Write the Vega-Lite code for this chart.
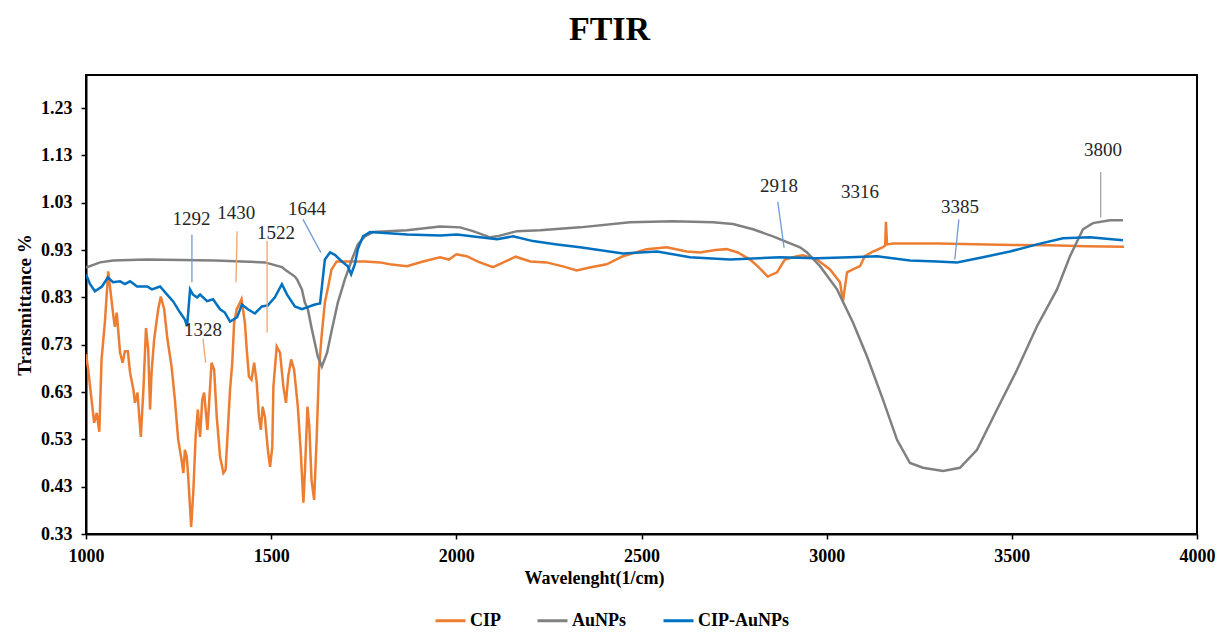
{
  "$schema": "https://vega.github.io/schema/vega-lite/v6.json",
  "width": 1111,
  "height": 459,
  "autosize": {"type": "none"},
  "padding": {"left": 86, "top": 75, "right": 22, "bottom": 101},
  "background": "white",
  "title": {"text": "FTIR", "font": "Liberation Serif", "fontSize": 34, "fontWeight": "bold", "color": "black", "anchor": "middle", "dx": -32, "offset": 28},
  "config": {"view": {"stroke": "black", "strokeWidth": 2}, "font": "Liberation Serif"},
  "datasets": {
    "spectra": [
      {"series": "CIP", "wn": 1000, "t": 0.71},
      {"series": "CIP", "wn": 1006, "t": 0.677},
      {"series": "CIP", "wn": 1015, "t": 0.614},
      {"series": "CIP", "wn": 1022, "t": 0.565},
      {"series": "CIP", "wn": 1029, "t": 0.586},
      {"series": "CIP", "wn": 1036, "t": 0.546},
      {"series": "CIP", "wn": 1042, "t": 0.699},
      {"series": "CIP", "wn": 1051, "t": 0.777},
      {"series": "CIP", "wn": 1060, "t": 0.885},
      {"series": "CIP", "wn": 1074, "t": 0.79},
      {"series": "CIP", "wn": 1078, "t": 0.768},
      {"series": "CIP", "wn": 1083, "t": 0.798},
      {"series": "CIP", "wn": 1092, "t": 0.713},
      {"series": "CIP", "wn": 1099, "t": 0.692},
      {"series": "CIP", "wn": 1105, "t": 0.716},
      {"series": "CIP", "wn": 1113, "t": 0.716},
      {"series": "CIP", "wn": 1119, "t": 0.671},
      {"series": "CIP", "wn": 1128, "t": 0.635},
      {"series": "CIP", "wn": 1132, "t": 0.607},
      {"series": "CIP", "wn": 1139, "t": 0.629},
      {"series": "CIP", "wn": 1148, "t": 0.535},
      {"series": "CIP", "wn": 1155, "t": 0.635},
      {"series": "CIP", "wn": 1162, "t": 0.765},
      {"series": "CIP", "wn": 1168, "t": 0.72},
      {"series": "CIP", "wn": 1173, "t": 0.593},
      {"series": "CIP", "wn": 1177, "t": 0.671},
      {"series": "CIP", "wn": 1184, "t": 0.741},
      {"series": "CIP", "wn": 1195, "t": 0.805},
      {"series": "CIP", "wn": 1202, "t": 0.832},
      {"series": "CIP", "wn": 1211, "t": 0.805},
      {"series": "CIP", "wn": 1220, "t": 0.741},
      {"series": "CIP", "wn": 1231, "t": 0.684},
      {"series": "CIP", "wn": 1240, "t": 0.614},
      {"series": "CIP", "wn": 1249, "t": 0.529},
      {"series": "CIP", "wn": 1258, "t": 0.487},
      {"series": "CIP", "wn": 1263, "t": 0.459},
      {"series": "CIP", "wn": 1267, "t": 0.508},
      {"series": "CIP", "wn": 1272, "t": 0.494},
      {"series": "CIP", "wn": 1276, "t": 0.451},
      {"series": "CIP", "wn": 1284, "t": 0.345},
      {"series": "CIP", "wn": 1290, "t": 0.423},
      {"series": "CIP", "wn": 1296, "t": 0.535},
      {"series": "CIP", "wn": 1302, "t": 0.593},
      {"series": "CIP", "wn": 1308, "t": 0.535},
      {"series": "CIP", "wn": 1314, "t": 0.614},
      {"series": "CIP", "wn": 1319, "t": 0.629},
      {"series": "CIP", "wn": 1323, "t": 0.593},
      {"series": "CIP", "wn": 1328, "t": 0.55},
      {"series": "CIP", "wn": 1333, "t": 0.614},
      {"series": "CIP", "wn": 1339, "t": 0.692},
      {"series": "CIP", "wn": 1346, "t": 0.677},
      {"series": "CIP", "wn": 1353, "t": 0.578},
      {"series": "CIP", "wn": 1362, "t": 0.493},
      {"series": "CIP", "wn": 1371, "t": 0.459},
      {"series": "CIP", "wn": 1377, "t": 0.466},
      {"series": "CIP", "wn": 1383, "t": 0.55},
      {"series": "CIP", "wn": 1389, "t": 0.635},
      {"series": "CIP", "wn": 1395, "t": 0.692},
      {"series": "CIP", "wn": 1400, "t": 0.777},
      {"series": "CIP", "wn": 1407, "t": 0.805},
      {"series": "CIP", "wn": 1416, "t": 0.819},
      {"series": "CIP", "wn": 1420, "t": 0.826},
      {"series": "CIP", "wn": 1429, "t": 0.777},
      {"series": "CIP", "wn": 1434, "t": 0.72},
      {"series": "CIP", "wn": 1440, "t": 0.663},
      {"series": "CIP", "wn": 1447, "t": 0.656},
      {"series": "CIP", "wn": 1454, "t": 0.692},
      {"series": "CIP", "wn": 1461, "t": 0.65},
      {"series": "CIP", "wn": 1467, "t": 0.578},
      {"series": "CIP", "wn": 1472, "t": 0.55},
      {"series": "CIP", "wn": 1477, "t": 0.599},
      {"series": "CIP", "wn": 1483, "t": 0.578},
      {"series": "CIP", "wn": 1491, "t": 0.508},
      {"series": "CIP", "wn": 1497, "t": 0.472},
      {"series": "CIP", "wn": 1503, "t": 0.514},
      {"series": "CIP", "wn": 1506, "t": 0.641},
      {"series": "CIP", "wn": 1515, "t": 0.726},
      {"series": "CIP", "wn": 1524, "t": 0.713},
      {"series": "CIP", "wn": 1533, "t": 0.641},
      {"series": "CIP", "wn": 1540, "t": 0.607},
      {"series": "CIP", "wn": 1546, "t": 0.663},
      {"series": "CIP", "wn": 1554, "t": 0.699},
      {"series": "CIP", "wn": 1562, "t": 0.677},
      {"series": "CIP", "wn": 1572, "t": 0.599},
      {"series": "CIP", "wn": 1580, "t": 0.502},
      {"series": "CIP", "wn": 1587, "t": 0.396},
      {"series": "CIP", "wn": 1591, "t": 0.459},
      {"series": "CIP", "wn": 1598, "t": 0.599},
      {"series": "CIP", "wn": 1603, "t": 0.557},
      {"series": "CIP", "wn": 1609, "t": 0.444},
      {"series": "CIP", "wn": 1616, "t": 0.402},
      {"series": "CIP", "wn": 1623, "t": 0.535},
      {"series": "CIP", "wn": 1629, "t": 0.677},
      {"series": "CIP", "wn": 1636, "t": 0.747},
      {"series": "CIP", "wn": 1645, "t": 0.819},
      {"series": "CIP", "wn": 1654, "t": 0.853},
      {"series": "CIP", "wn": 1663, "t": 0.889},
      {"series": "CIP", "wn": 1677, "t": 0.906},
      {"series": "CIP", "wn": 1699, "t": 0.906},
      {"series": "CIP", "wn": 1753, "t": 0.906},
      {"series": "CIP", "wn": 1794, "t": 0.904},
      {"series": "CIP", "wn": 1820, "t": 0.9},
      {"series": "CIP", "wn": 1867, "t": 0.896},
      {"series": "CIP", "wn": 1910, "t": 0.906},
      {"series": "CIP", "wn": 1956, "t": 0.915},
      {"series": "CIP", "wn": 1980, "t": 0.91},
      {"series": "CIP", "wn": 2000, "t": 0.921},
      {"series": "CIP", "wn": 2028, "t": 0.917},
      {"series": "CIP", "wn": 2060, "t": 0.905},
      {"series": "CIP", "wn": 2099, "t": 0.894},
      {"series": "CIP", "wn": 2130, "t": 0.905},
      {"series": "CIP", "wn": 2160, "t": 0.916},
      {"series": "CIP", "wn": 2200, "t": 0.906},
      {"series": "CIP", "wn": 2244, "t": 0.904},
      {"series": "CIP", "wn": 2290, "t": 0.895},
      {"series": "CIP", "wn": 2325, "t": 0.887},
      {"series": "CIP", "wn": 2360, "t": 0.893},
      {"series": "CIP", "wn": 2406, "t": 0.9},
      {"series": "CIP", "wn": 2450, "t": 0.917},
      {"series": "CIP", "wn": 2514, "t": 0.932},
      {"series": "CIP", "wn": 2568, "t": 0.936},
      {"series": "CIP", "wn": 2622, "t": 0.927},
      {"series": "CIP", "wn": 2658, "t": 0.925},
      {"series": "CIP", "wn": 2700, "t": 0.93},
      {"series": "CIP", "wn": 2730, "t": 0.932},
      {"series": "CIP", "wn": 2760, "t": 0.925},
      {"series": "CIP", "wn": 2793, "t": 0.91},
      {"series": "CIP", "wn": 2815, "t": 0.895},
      {"series": "CIP", "wn": 2841, "t": 0.874},
      {"series": "CIP", "wn": 2866, "t": 0.883},
      {"series": "CIP", "wn": 2887, "t": 0.91},
      {"series": "CIP", "wn": 2920, "t": 0.917},
      {"series": "CIP", "wn": 2936, "t": 0.919},
      {"series": "CIP", "wn": 2974, "t": 0.91},
      {"series": "CIP", "wn": 3009, "t": 0.889},
      {"series": "CIP", "wn": 3036, "t": 0.862},
      {"series": "CIP", "wn": 3044, "t": 0.822},
      {"series": "CIP", "wn": 3055, "t": 0.883},
      {"series": "CIP", "wn": 3071, "t": 0.889},
      {"series": "CIP", "wn": 3090, "t": 0.896},
      {"series": "CIP", "wn": 3103, "t": 0.917},
      {"series": "CIP", "wn": 3125, "t": 0.927},
      {"series": "CIP", "wn": 3152, "t": 0.936},
      {"series": "CIP", "wn": 3158, "t": 0.94},
      {"series": "CIP", "wn": 3160, "t": 0.99},
      {"series": "CIP", "wn": 3163, "t": 0.942},
      {"series": "CIP", "wn": 3180, "t": 0.944},
      {"series": "CIP", "wn": 3300, "t": 0.944},
      {"series": "CIP", "wn": 3500, "t": 0.941},
      {"series": "CIP", "wn": 3600, "t": 0.94},
      {"series": "CIP", "wn": 3700, "t": 0.938},
      {"series": "CIP", "wn": 3803, "t": 0.937},

      {"series": "AuNPs", "wn": 1000, "t": 0.893},
      {"series": "AuNPs", "wn": 1038, "t": 0.904},
      {"series": "AuNPs", "wn": 1073, "t": 0.908},
      {"series": "AuNPs", "wn": 1165, "t": 0.91},
      {"series": "AuNPs", "wn": 1348, "t": 0.908},
      {"series": "AuNPs", "wn": 1483, "t": 0.904},
      {"series": "AuNPs", "wn": 1529, "t": 0.894},
      {"series": "AuNPs", "wn": 1537, "t": 0.889},
      {"series": "AuNPs", "wn": 1564, "t": 0.874},
      {"series": "AuNPs", "wn": 1570, "t": 0.868},
      {"series": "AuNPs", "wn": 1583, "t": 0.847},
      {"series": "AuNPs", "wn": 1591, "t": 0.819},
      {"series": "AuNPs", "wn": 1599, "t": 0.805},
      {"series": "AuNPs", "wn": 1610, "t": 0.762},
      {"series": "AuNPs", "wn": 1626, "t": 0.705},
      {"series": "AuNPs", "wn": 1637, "t": 0.684},
      {"series": "AuNPs", "wn": 1651, "t": 0.713},
      {"series": "AuNPs", "wn": 1664, "t": 0.762},
      {"series": "AuNPs", "wn": 1680, "t": 0.819},
      {"series": "AuNPs", "wn": 1699, "t": 0.868},
      {"series": "AuNPs", "wn": 1718, "t": 0.91},
      {"series": "AuNPs", "wn": 1734, "t": 0.942},
      {"series": "AuNPs", "wn": 1753, "t": 0.959},
      {"series": "AuNPs", "wn": 1775, "t": 0.968},
      {"series": "AuNPs", "wn": 1867, "t": 0.972},
      {"series": "AuNPs", "wn": 1956, "t": 0.98},
      {"series": "AuNPs", "wn": 2010, "t": 0.978},
      {"series": "AuNPs", "wn": 2045, "t": 0.97},
      {"series": "AuNPs", "wn": 2091, "t": 0.957},
      {"series": "AuNPs", "wn": 2110, "t": 0.959},
      {"series": "AuNPs", "wn": 2164, "t": 0.97},
      {"series": "AuNPs", "wn": 2226, "t": 0.972},
      {"series": "AuNPs", "wn": 2334, "t": 0.978},
      {"series": "AuNPs", "wn": 2469, "t": 0.989},
      {"series": "AuNPs", "wn": 2585, "t": 0.991},
      {"series": "AuNPs", "wn": 2693, "t": 0.989},
      {"series": "AuNPs", "wn": 2747, "t": 0.985},
      {"series": "AuNPs", "wn": 2801, "t": 0.974},
      {"series": "AuNPs", "wn": 2855, "t": 0.959},
      {"series": "AuNPs", "wn": 2893, "t": 0.947},
      {"series": "AuNPs", "wn": 2928, "t": 0.936},
      {"series": "AuNPs", "wn": 2947, "t": 0.925},
      {"series": "AuNPs", "wn": 2982, "t": 0.896},
      {"series": "AuNPs", "wn": 3028, "t": 0.847},
      {"series": "AuNPs", "wn": 3071, "t": 0.777},
      {"series": "AuNPs", "wn": 3109, "t": 0.705},
      {"series": "AuNPs", "wn": 3152, "t": 0.614},
      {"series": "AuNPs", "wn": 3190, "t": 0.529},
      {"series": "AuNPs", "wn": 3225, "t": 0.48},
      {"series": "AuNPs", "wn": 3260, "t": 0.47},
      {"series": "AuNPs", "wn": 3314, "t": 0.463},
      {"series": "AuNPs", "wn": 3360, "t": 0.47},
      {"series": "AuNPs", "wn": 3406, "t": 0.508},
      {"series": "AuNPs", "wn": 3460, "t": 0.593},
      {"series": "AuNPs", "wn": 3514, "t": 0.677},
      {"series": "AuNPs", "wn": 3568, "t": 0.769},
      {"series": "AuNPs", "wn": 3622, "t": 0.847},
      {"series": "AuNPs", "wn": 3657, "t": 0.917},
      {"series": "AuNPs", "wn": 3692, "t": 0.974},
      {"series": "AuNPs", "wn": 3719, "t": 0.987},
      {"series": "AuNPs", "wn": 3765, "t": 0.993},
      {"series": "AuNPs", "wn": 3800, "t": 0.993},

      {"series": "CIP-AuNPs", "wn": 1000, "t": 0.879},
      {"series": "CIP-AuNPs", "wn": 1011, "t": 0.858},
      {"series": "CIP-AuNPs", "wn": 1024, "t": 0.843},
      {"series": "CIP-AuNPs", "wn": 1043, "t": 0.853},
      {"series": "CIP-AuNPs", "wn": 1059, "t": 0.872},
      {"series": "CIP-AuNPs", "wn": 1073, "t": 0.862},
      {"series": "CIP-AuNPs", "wn": 1092, "t": 0.864},
      {"series": "CIP-AuNPs", "wn": 1105, "t": 0.858},
      {"series": "CIP-AuNPs", "wn": 1119, "t": 0.864},
      {"series": "CIP-AuNPs", "wn": 1138, "t": 0.853},
      {"series": "CIP-AuNPs", "wn": 1165, "t": 0.853},
      {"series": "CIP-AuNPs", "wn": 1178, "t": 0.847},
      {"series": "CIP-AuNPs", "wn": 1200, "t": 0.853},
      {"series": "CIP-AuNPs", "wn": 1219, "t": 0.836},
      {"series": "CIP-AuNPs", "wn": 1235, "t": 0.822},
      {"series": "CIP-AuNPs", "wn": 1254, "t": 0.798},
      {"series": "CIP-AuNPs", "wn": 1267, "t": 0.783},
      {"series": "CIP-AuNPs", "wn": 1273, "t": 0.769},
      {"series": "CIP-AuNPs", "wn": 1281, "t": 0.847},
      {"series": "CIP-AuNPs", "wn": 1289, "t": 0.836},
      {"series": "CIP-AuNPs", "wn": 1300, "t": 0.83},
      {"series": "CIP-AuNPs", "wn": 1308, "t": 0.836},
      {"series": "CIP-AuNPs", "wn": 1327, "t": 0.822},
      {"series": "CIP-AuNPs", "wn": 1343, "t": 0.826},
      {"series": "CIP-AuNPs", "wn": 1362, "t": 0.805},
      {"series": "CIP-AuNPs", "wn": 1375, "t": 0.798},
      {"series": "CIP-AuNPs", "wn": 1389, "t": 0.779},
      {"series": "CIP-AuNPs", "wn": 1408, "t": 0.788},
      {"series": "CIP-AuNPs", "wn": 1421, "t": 0.815},
      {"series": "CIP-AuNPs", "wn": 1437, "t": 0.805},
      {"series": "CIP-AuNPs", "wn": 1456, "t": 0.796},
      {"series": "CIP-AuNPs", "wn": 1475, "t": 0.811},
      {"series": "CIP-AuNPs", "wn": 1491, "t": 0.813},
      {"series": "CIP-AuNPs", "wn": 1510, "t": 0.83},
      {"series": "CIP-AuNPs", "wn": 1529, "t": 0.858},
      {"series": "CIP-AuNPs", "wn": 1543, "t": 0.836},
      {"series": "CIP-AuNPs", "wn": 1564, "t": 0.811},
      {"series": "CIP-AuNPs", "wn": 1583, "t": 0.805},
      {"series": "CIP-AuNPs", "wn": 1618, "t": 0.815},
      {"series": "CIP-AuNPs", "wn": 1632, "t": 0.817},
      {"series": "CIP-AuNPs", "wn": 1645, "t": 0.91},
      {"series": "CIP-AuNPs", "wn": 1659, "t": 0.925},
      {"series": "CIP-AuNPs", "wn": 1672, "t": 0.92},
      {"series": "CIP-AuNPs", "wn": 1691, "t": 0.906},
      {"series": "CIP-AuNPs", "wn": 1707, "t": 0.896},
      {"series": "CIP-AuNPs", "wn": 1716, "t": 0.879},
      {"series": "CIP-AuNPs", "wn": 1726, "t": 0.9},
      {"series": "CIP-AuNPs", "wn": 1734, "t": 0.932},
      {"series": "CIP-AuNPs", "wn": 1748, "t": 0.959},
      {"series": "CIP-AuNPs", "wn": 1767, "t": 0.968},
      {"series": "CIP-AuNPs", "wn": 1867, "t": 0.963},
      {"series": "CIP-AuNPs", "wn": 1956, "t": 0.961},
      {"series": "CIP-AuNPs", "wn": 2002, "t": 0.963},
      {"series": "CIP-AuNPs", "wn": 2064, "t": 0.957},
      {"series": "CIP-AuNPs", "wn": 2110, "t": 0.953},
      {"series": "CIP-AuNPs", "wn": 2153, "t": 0.959},
      {"series": "CIP-AuNPs", "wn": 2207, "t": 0.949},
      {"series": "CIP-AuNPs", "wn": 2272, "t": 0.942},
      {"series": "CIP-AuNPs", "wn": 2334, "t": 0.936},
      {"series": "CIP-AuNPs", "wn": 2450, "t": 0.923},
      {"series": "CIP-AuNPs", "wn": 2542, "t": 0.927},
      {"series": "CIP-AuNPs", "wn": 2631, "t": 0.915},
      {"series": "CIP-AuNPs", "wn": 2739, "t": 0.91},
      {"series": "CIP-AuNPs", "wn": 2874, "t": 0.915},
      {"series": "CIP-AuNPs", "wn": 2974, "t": 0.913},
      {"series": "CIP-AuNPs", "wn": 3063, "t": 0.915},
      {"series": "CIP-AuNPs", "wn": 3136, "t": 0.917},
      {"series": "CIP-AuNPs", "wn": 3225, "t": 0.908},
      {"series": "CIP-AuNPs", "wn": 3298, "t": 0.906},
      {"series": "CIP-AuNPs", "wn": 3352, "t": 0.904},
      {"series": "CIP-AuNPs", "wn": 3422, "t": 0.915},
      {"series": "CIP-AuNPs", "wn": 3495, "t": 0.927},
      {"series": "CIP-AuNPs", "wn": 3568, "t": 0.942},
      {"series": "CIP-AuNPs", "wn": 3638, "t": 0.955},
      {"series": "CIP-AuNPs", "wn": 3711, "t": 0.957},
      {"series": "CIP-AuNPs", "wn": 3800, "t": 0.951}
    ],
    "peaks": [
      {"label": "1292", "wn": 1285, "t": 0.995},
      {"label": "1430", "wn": 1406, "t": 1.008},
      {"label": "1522", "wn": 1513, "t": 0.966},
      {"label": "1644", "wn": 1597, "t": 1.016},
      {"label": "1328", "wn": 1316, "t": 0.762},
      {"label": "2918", "wn": 2871, "t": 1.065},
      {"label": "3316", "wn": 3090, "t": 1.052},
      {"label": "3385", "wn": 3360, "t": 1.021},
      {"label": "3800", "wn": 3746, "t": 1.141}
    ],
    "leaders": [
      {"series": "CIP-AuNPs", "wn": 1286, "t": 0.963, "wn2": 1286, "t2": 0.862},
      {"series": "CIP", "wn": 1408, "t": 0.97, "wn2": 1405, "t2": 0.862},
      {"series": "CIP", "wn": 1489, "t": 0.949, "wn2": 1489, "t2": 0.756},
      {"series": "CIP-AuNPs", "wn": 1586, "t": 0.995, "wn2": 1634, "t2": 0.925},
      {"series": "CIP", "wn": 1316, "t": 0.743, "wn2": 1323, "t2": 0.692},
      {"series": "CIP-AuNPs", "wn": 2868, "t": 1.032, "wn2": 2885, "t2": 0.935},
      {"series": "CIP-AuNPs", "wn": 3357, "t": 0.995, "wn2": 3346, "t2": 0.91},
      {"series": "AuNPs", "wn": 3740, "t": 1.095, "wn2": 3740, "t2": 0.999}
    ]
  },
  "layer": [
    {
      "data": {"name": "spectra"},
      "mark": {"type": "line", "strokeWidth": 2.5, "clip": true},
      "encoding": {
        "x": {
          "field": "wn", "type": "quantitative",
          "scale": {"domain": [1000, 4000], "nice": false, "zero": false},
          "axis": {
            "values": [1000, 1500, 2000, 2500, 3000, 3500, 4000], "format": "d",
            "title": "Wavelenght(1/cm)", "titleX": 508, "titleFont": "Liberation Serif", "titleFontSize": 18,
            "titleFontWeight": "bold", "titleColor": "black", "titlePadding": 4,
            "labelFont": "Liberation Serif", "labelFontSize": 18, "labelFontWeight": "bold", "labelColor": "black",
            "labelPadding": 8, "labelFlush": false, "labelOverlap": false,
            "tickSize": 5, "tickColor": "black", "tickWidth": 1.5,
            "domainColor": "black", "domainWidth": 2, "grid": false
          }
        },
        "y": {
          "field": "t", "type": "quantitative",
          "scale": {"domain": [0.33, 1.3], "nice": false, "zero": false},
          "axis": {
            "values": [0.33, 0.43, 0.53, 0.63, 0.73, 0.83, 0.93, 1.03, 1.13, 1.23], "format": ".2f",
            "title": "Transmittance %", "titleFont": "Liberation Serif", "titleFontSize": 19,
            "titleFontWeight": "bold", "titleColor": "black", "titlePadding": 6,
            "labelFont": "Liberation Serif", "labelFontSize": 18, "labelFontWeight": "bold", "labelColor": "black",
            "labelPadding": 9, "labelOverlap": false,
            "tickSize": 5, "tickColor": "black", "tickWidth": 1.5,
            "domainColor": "black", "domainWidth": 2, "grid": false
          }
        },
        "color": {
          "field": "series", "type": "nominal",
          "scale": {"domain": ["CIP", "AuNPs", "CIP-AuNPs"], "range": ["#ED7D31", "#808080", "#0070C0"]},
          "legend": {
            "orient": "none", "legendX": 348, "legendY": 529, "direction": "horizontal", "title": null,
            "symbolType": "stroke", "symbolSize": 900, "symbolStrokeWidth": 3,
            "labelFont": "Liberation Serif", "labelFontSize": 18, "labelFontWeight": "bold", "labelColor": "black",
            "labelOffset": 3, "columnPadding": 30
          }
        }
      }
    },
    {
      "data": {"name": "leaders"},
      "mark": {"type": "rule", "strokeWidth": 1.3},
      "encoding": {
        "x": {"field": "wn", "type": "quantitative"},
        "x2": {"field": "wn2"},
        "y": {"field": "t", "type": "quantitative"},
        "y2": {"field": "t2"},
        "color": {
          "field": "series", "type": "nominal",
          "scale": {"domain": ["CIP", "AuNPs", "CIP-AuNPs"], "range": ["#F2A46E", "#A6A6A6", "#6C9BD8"]},
          "legend": null
        }
      }
    },
    {
      "data": {"name": "peaks"},
      "mark": {"type": "text", "font": "Liberation Serif", "fontSize": 19, "color": "#262626", "baseline": "middle", "align": "center"},
      "encoding": {
        "x": {"field": "wn", "type": "quantitative"},
        "y": {"field": "t", "type": "quantitative"},
        "text": {"field": "label"}
      }
    }
  ],
  "resolve": {"scale": {"color": "independent"}}
}
